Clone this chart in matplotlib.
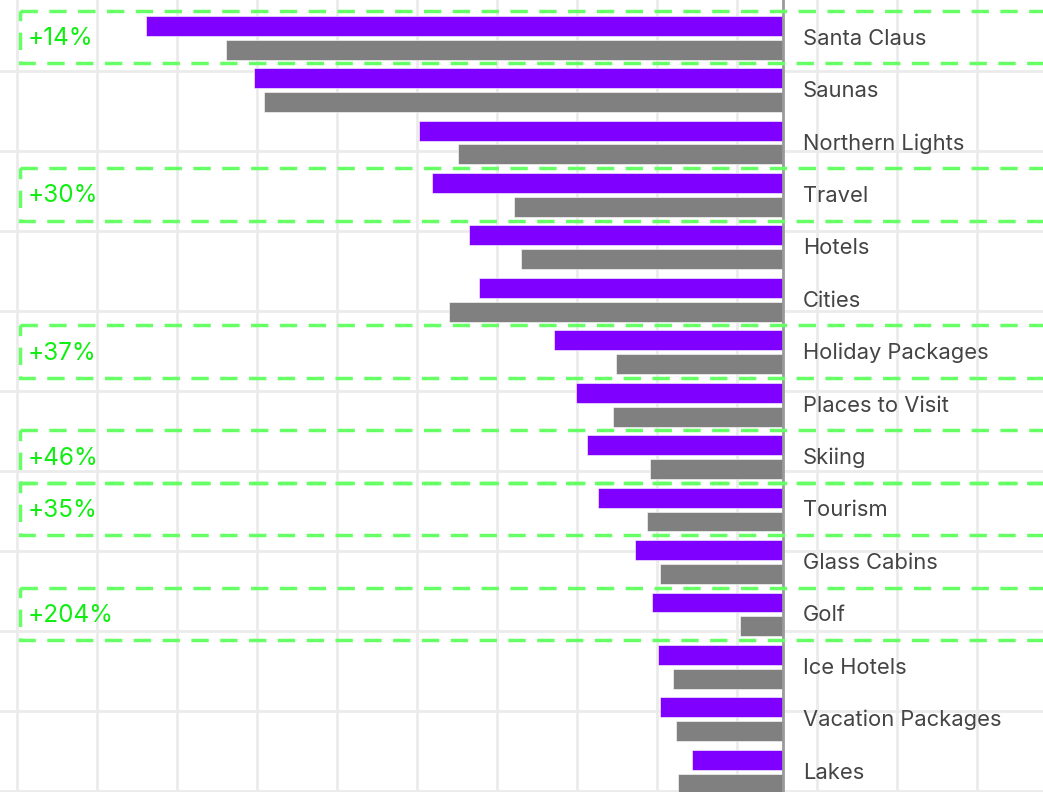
import numpy as np
import matplotlib
matplotlib.use("Agg")
import matplotlib.pyplot as plt
from matplotlib.patches import Rectangle

# Search terms, top to bottom
categories = ["Santa Claus", "Saunas", "Northern Lights", "Travel", "Hotels",
              "Cities", "Holiday Packages", "Places to Visit", "Skiing",
              "Tourism", "Glass Cabins", "Golf", "Ice Hotels",
              "Vacation Packages", "Lakes"]
current = [637, 529, 364, 351, 314, 304, 229, 207, 196, 185, 148, 131, 125, 123, 91]
previous = [557, 519, 325, 269, 262, 334, 167, 170, 133, 136, 123, 43, 110, 107, 105]

highlight_terms = ["Santa Claus", "Travel", "Holiday Packages", "Skiing", "Tourism", "Golf"]
highlight_labels = ["+14%", "+30%", "+37%", "+46%", "+35%", "+204%"]

PURPLE = "#7f00ff"
GRAY = "#808080"
BOX_GREEN = "#66ff66"
TEXT_GREEN = "#11ee11"
FONT = "Inter"

W, H = 1043, 792
fig = plt.figure(figsize=(W / 100, H / 100), dpi=100)

# background grid, fixed 80px cells
bg = fig.add_axes([0, 0, 1, 1], zorder=0)
bg.set_xlim(0, W)
bg.set_ylim(H, 0)
bg.set_xticks(np.arange(17, W, 80))
bg.set_yticks(np.arange(71, H, 80))
bg.grid(True, color="#ebebeb", linewidth=2)
bg.tick_params(length=0, labelbottom=False, labelleft=False)
for s in bg.spines.values():
    s.set_visible(False)

ax = fig.add_axes([0, 0, 1, 1], zorder=1)
ax.patch.set_visible(False)
ax.axis("off")

y = np.arange(len(categories))
ax.barh(y - 0.215, -np.array(current), height=0.38, color=PURPLE,
        edgecolor="white", linewidth=0.4)
ax.barh(y + 0.24, -np.array(previous), height=0.38, color=GRAY,
        edgecolor="white", linewidth=0.4)
ax.axvline(0, color="#9a9a9a", linewidth=2, zorder=3)

ax.set_xlim(-783, 260)
ax.set_ylim(14.40, -0.706)

for i, name in enumerate(categories):
    ax.text(20, i + 0.03, name, va="center", ha="left", fontsize=15.8,
            color="#444444", family=FONT)

for term, lab in zip(highlight_terms, highlight_labels):
    i = categories.index(term)
    ax.add_patch(Rectangle((-763, i - 0.5), 1100, 1.0, fill=False,
                           edgecolor=BOX_GREEN, linewidth=2.5,
                           linestyle=(0, (5.0, 3.3)), zorder=4))
    ax.text(-755, i + 0.03, lab, va="center", ha="left", fontsize=17.5,
            color=TEXT_GREEN, family=FONT, zorder=5)

fig.savefig("out.png", dpi=100)
